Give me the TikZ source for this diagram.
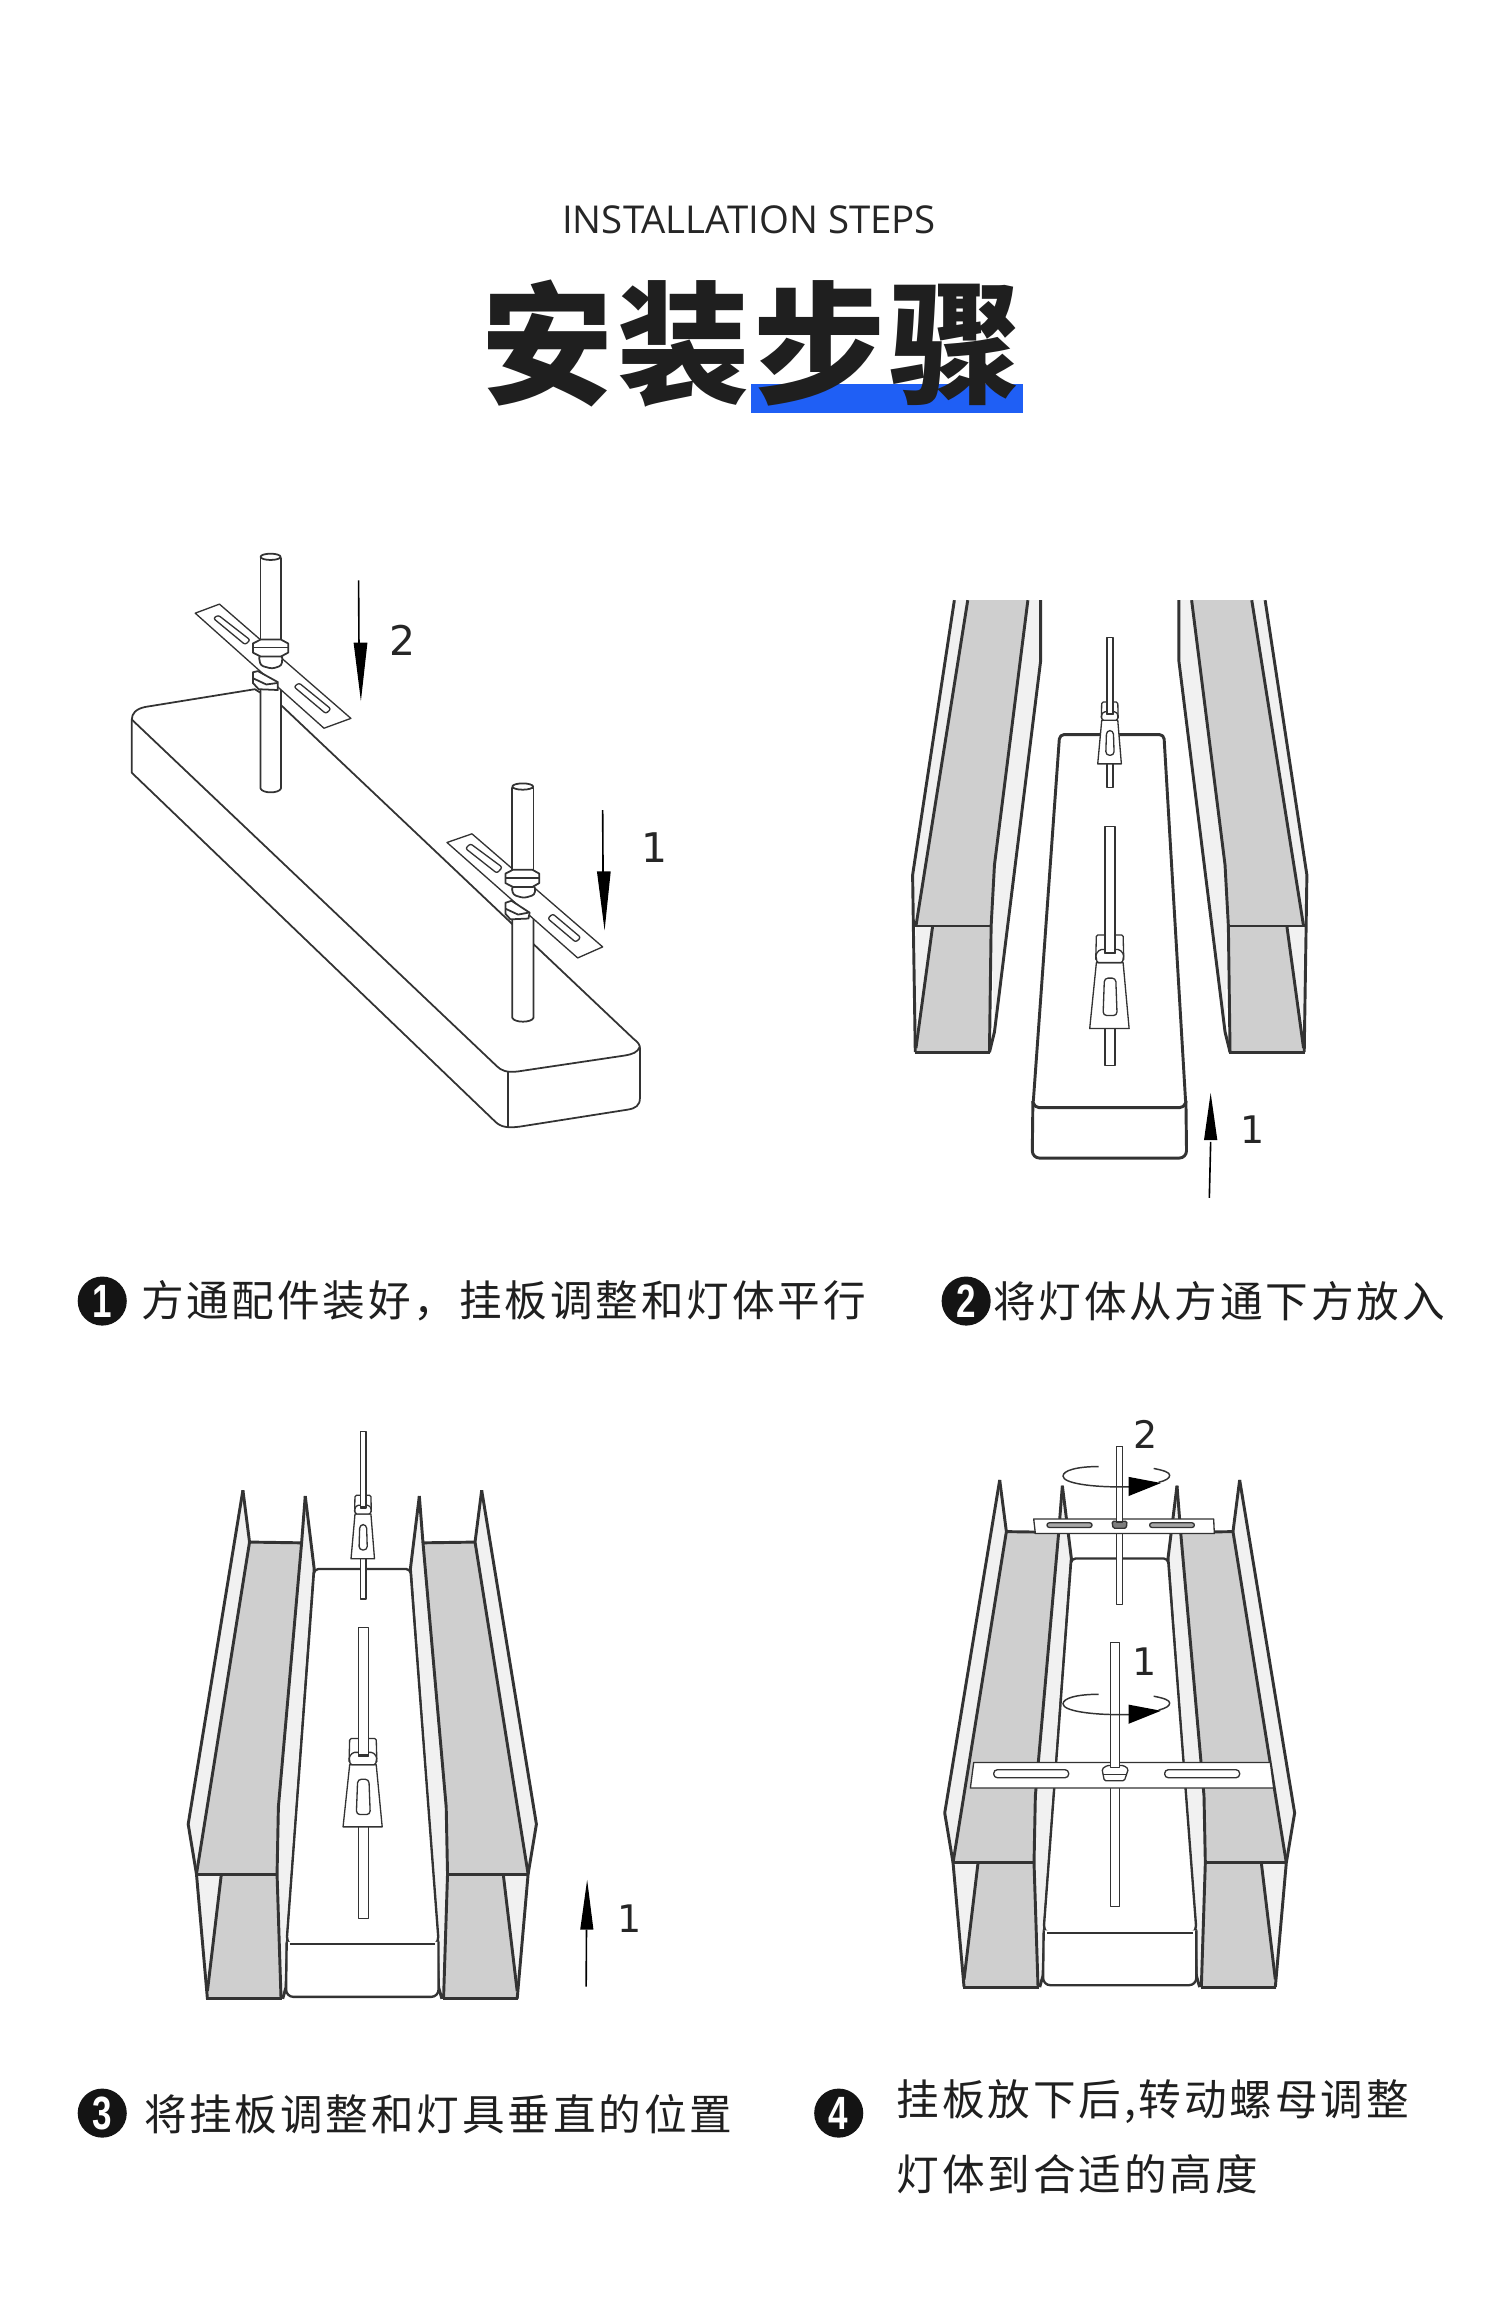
\documentclass[tikz,border=0pt]{standalone}
\usepackage{fontspec}
\newfontfamily\cjkreg[LetterSpace=6.7]{Noto Sans CJK SC}
\newfontfamily\cjktitle[LetterSpace=3]{Noto Sans CJK SC Black}
\newfontfamily\latlight{Open Sans}
\newfontfamily\labfont{DejaVu Sans}
\newfontfamily\discfont[FakeStretch=0.75,BoldFeatures={FakeStretch=0.75}]{Liberation Sans}
\definecolor{ink}{HTML}{333333}
\definecolor{facegrey}{HTML}{CFCFCF}
\definecolor{lightface}{HTML}{F1F1F1}
\definecolor{barblue}{HTML}{1F5FF5}
\tikzset{
  thinln/.style={draw=ink,line width=0.9bp,line join=round},
  thickln/.style={draw=ink,line width=2.0bp,line join=round},
  midln/.style={draw=ink,line width=1.2bp,line join=round},
  caption/.style={font=\cjkreg\fontsize{29.2}{32}\selectfont,text=black!88,anchor=west,inner sep=0pt},
  numdisc/.style={circle,fill=black!92,text=white,minimum size=33.5bp,inner sep=0pt,font=\discfont\bfseries\fontsize{32}{34}\selectfont},
  numlabel/.style={font=\labfont\fontsize{26}{28}\selectfont,text=black!85,inner sep=0pt},
}
% ---- hanger: #1 rod top, #2 rod bottom
\newcommand{\hanger}[2]{%
  \draw[thinln,fill=white] (-14,120) rectangle (16,#2);
  \filldraw[thinln,fill=white,rounded corners=1bp] (-40,-68) -- (40,-68) -- (42,-5) -- (-42,-5) -- cycle;
  \filldraw[thinln,fill=white] (-40,0) -- (40,0) -- (58,162) -- (-60,162) -- cycle;
  \filldraw[thinln,fill=white,rounded corners=2.5bp] (-16,38) -- (18,38) -- (22,130) -- (-20,130) -- cycle;
  \filldraw[thinln,fill=white,rounded corners=1bp] (-42,-20) -- (-30,-32) -- (30,-32) -- (42,-20) -- (38,0) -- (-38,0) -- cycle;
  \draw[thinln,fill=white] (-14,-22) rectangle (16,#1);
  \draw[ink,line width=1.4bp] (-14,-24) -- (16,-24);
}
% ---- tube in step 2
\newcommand{\tubeopen}{%
  \fill[lightface] (225,70) -- (265,70) -- (110,870) -- (100,745) -- cycle;
  \fill[lightface] (445,70) -- (483,70) -- (483,220) -- (345,1130) -- (335,870) -- (345,720) -- cycle;
  \fill[lightface] (110,870) -- (160,870) -- (110,1120) -- cycle;
  \fill[facegrey] (265,70) -- (445,70) -- (345,720) -- (335,870) -- (110,870) -- cycle;
  \fill[facegrey] (160,870) -- (335,870) -- (330,1180) -- (108,1180) -- cycle;
  \draw[thickln] (225,70) -- (100,745) -- (108,1180);
  \draw[thickln] (265,70) -- (110,870);
  \draw[thickln] (445,70) -- (345,720) -- (335,870) -- (330,1180);
  \draw[thickln] (483,70) -- (483,220) -- (345,1130) -- (330,1180);
  \draw[thickln] (100,870) -- (335,870);
  \draw[thickln] (160,870) -- (110,1170);
  \draw[thickln] (106,1180) -- (332,1180);
}
% ---- trough used in steps 3 and 4
\newcommand{\trough}{%
  \fill[lightface] (215,235) -- (235,370) -- (75,1235) -- (50,1105) -- cycle;
  \fill[lightface] (403,250) -- (430,440) -- (350,1400) -- (345,1530) -- (335,1560) -- (318,1235) -- (322,1080) -- (392,372) -- cycle;
  \fill[lightface] (75,1235) -- (150,1235) -- (108,1530) -- cycle;
  \fill[facegrey] (235,370) -- (392,372) -- (322,1060) -- (318,1235) -- (75,1235) -- cycle;
  \fill[facegrey] (150,1235) -- (318,1235) -- (330,1560) -- (108,1560) -- cycle;
  \draw[thickln] (215,235) -- (50,1105) -- (75,1235) -- (108,1560);
  \draw[thickln] (215,235) -- (235,370) -- (75,1235);
  \draw[thickln] (235,370) -- (392,372) -- (322,1060) -- (318,1235) -- (330,1560);
  \draw[thickln] (403,250) -- (392,372);
  \draw[thickln] (403,250) -- (430,440) -- (350,1400) -- (345,1530) -- (335,1560);
  \draw[thickln] (75,1235) -- (318,1235);
  \draw[thickln] (150,1235) -- (108,1540);
  \draw[thickln] (105,1560) -- (332,1560);
}
\newcommand{\troughpair}{%
  \trough
  \begin{scope}[shift={(1150,0)},xscale=-1]\trough\end{scope}
  \filldraw[thickln,fill=white,line width=1.6bp,rounded corners=3bp] (430,440) -- (720,440) -- (805,1410) -- (795,1418) -- (357,1418) -- (347,1410) -- cycle;
  \draw[thickln,line width=1.6bp,fill=white,rounded corners=5bp] (347,1412) -- (345,1555) -- (805,1555) -- (805,1412);
  \draw[thickln,line width=1.6bp] (357,1418) -- (795,1418);
}
\newcommand{\swirl}{%
  \draw[ink,line width=1.0bp] (535,195) .. controls (470,195) and (428,205) .. (428,220)
     .. controls (428,238) and (510,250) .. (628,248);
  \draw[ink,line width=1.0bp] (700,200) .. controls (730,205) and (748,210) .. (748,218) .. controls (748,226) and (735,232) .. (715,236);
  \fill[black] (625,222) -- (722,238) -- (625,272) -- cycle;
}
\begin{document}
\begin{tikzpicture}[x=1bp,y=-1bp]
\useasboundingbox (0,0) rectangle (1024,1585);
\fill[white] (0,0) rectangle (1024,1585);
\begin{scope}[scale=1.0115]
% ===== heading
\fill[barblue] (506.5,259) rectangle (690.5,279);
\node[font=\latlight\fontsize{26.3}{30}\selectfont,text=black!85,inner sep=0pt] (subtitle) at (505.5,148) {INSTALLATION STEPS};
\node[font=\cjktitle\fontsize{90.5}{95}\selectfont,text=black!88,inner sep=0pt] (title) at (507.5,232) {安装步骤};
% ===== captions
\node[numdisc] (n1) at (69,878) {1};
\node[caption] (c1) at (95,878) {方通配件装好，挂板调整和灯体平行};
\node[numdisc] (n2) at (652,878) {2};
\node[caption] (c2) at (670,878) {将灯体从方通下方放入};
\node[numdisc] (n3) at (69,1426) {3};
\node[caption] (c3) at (97,1427) {将挂板调整和灯具垂直的位置};
\node[numdisc] (n4) at (566,1426) {4};
\node[caption] (c4a) at (605,1418) {挂板放下后,转动螺母调整};
\node[caption] (c4b) at (605,1467) {灯体到合适的高度};
% ===== figure 1
\begin{scope}[shift={(65.6bp,-351.3bp)},x=0.2594bp,y=-0.2659bp]
  \filldraw[midln,fill=white] (90,505) .. controls (90,490) and (100,478) .. (125,473) -- (410,428) -- (480,470)
     -- (1395,1315) .. controls (1408,1325) and (1412,1330) .. (1412,1340) -- (1412,1465)
     .. controls (1412,1485) and (1400,1492) .. (1380,1495) -- (1100,1538) .. controls (1070,1542) and (1050,1540) .. (1035,1525)
     -- (90,640) -- cycle;
  \draw[midln] (90,505) -- (1040,1385) .. controls (1050,1395) and (1065,1402) .. (1095,1398) -- (1370,1358) .. controls (1395,1354) and (1405,1350) .. (1412,1335);
  \draw[midln] (1068,1400) -- (1068,1540);
  % rods lower
  \draw[midln,fill=white] (425,420) -- (425,680) .. controls (430,693) and (473,693) .. (478,680) -- (478,420);
  \draw[midln,fill=white] (1080,1000) -- (1080,1262) .. controls (1085,1275) and (1130,1275) .. (1135,1262) -- (1135,1000);
  % plates
  \filldraw[thinln,fill=white] (255,235) -- (318,212) -- (660,502) -- (590,527) -- cycle;
  \filldraw[thinln,fill=white,rounded corners=1.5bp] (302,248) -- (315,240) -- (398,303) -- (385,315) -- cycle;
  \filldraw[thinln,fill=white,rounded corners=1.5bp] (512,422) -- (525,412) -- (608,478) -- (595,490) -- cycle;
  \filldraw[thinln,fill=white] (910,817) -- (975,795) -- (1315,1082) -- (1250,1110) -- cycle;
  \filldraw[thinln,fill=white,rounded corners=1.5bp] (958,832) -- (971,820) -- (1054,880) -- (1040,895) -- cycle;
  \filldraw[thinln,fill=white,rounded corners=1.5bp] (1172,1010) -- (1185,998) -- (1258,1058) -- (1245,1070) -- cycle;
  % nuts and upper rods, rod 2
  \filldraw[midln,fill=white] (405,385) -- (418,382) -- (470,410) -- (470,430) -- (420,428) -- (405,412) -- cycle;
  \draw[midln] (405,400) -- (440,416) -- (470,412);
  \filldraw[midln,fill=white,rounded corners=2bp] (420,342) -- (482,342) -- (480,368) -- (455,376) -- (425,368) -- cycle;
  \filldraw[midln,fill=white] (425,95) -- (425,320) -- (478,320) -- (478,95) -- cycle;
  \filldraw[midln,fill=white] (451,92) ellipse [x radius=26,y radius=8];
  \filldraw[midln,fill=white] (405,312) -- (425,302) -- (478,302) -- (497,312) -- (497,335) -- (478,345) -- (425,345) -- (405,335) -- cycle;
  \draw[midln] (405,322) -- (497,322);
  % rod 1
  \filldraw[midln,fill=white] (1062,970) -- (1078,965) -- (1125,995) -- (1122,1010) -- (1075,1012) -- (1062,998) -- cycle;
  \draw[midln] (1062,985) -- (1095,1000) -- (1122,995);
  \filldraw[midln,fill=white,rounded corners=2bp] (1078,928) -- (1140,928) -- (1138,950) -- (1110,958) -- (1082,950) -- cycle;
  \filldraw[midln,fill=white] (1080,678) -- (1080,905) -- (1135,905) -- (1135,678) -- cycle;
  \filldraw[midln,fill=white] (1107,675) ellipse [x radius=27,y radius=8];
  \filldraw[midln,fill=white] (1062,896) -- (1082,886) -- (1132,886) -- (1150,896) -- (1150,920) -- (1132,930) -- (1082,930) -- (1062,920) -- cycle;
  \draw[midln] (1062,908) -- (1150,908);
  % arrows
  \draw[black,line width=1.1bp] (680,152) -- (681,315);
  \fill[black] (667,310) -- (703,310) -- (686,458) -- cycle;
  \draw[black,line width=1.1bp] (1315,735) -- (1316,895);
  \fill[black] (1300,890) -- (1336,890) -- (1320,1040) -- cycle;
  \node[numlabel,font=\labfont\fontsize{28}{30}\selectfont] (f1a) at (795,305) {2};
  \node[numlabel,font=\labfont\fontsize{28}{30}\selectfont] (f1b) at (1450,830) {1};
\end{scope}
% ===== figure 2
\begin{scope}[shift={(593.3bp,-385.8bp)},x=0.2255bp,y=-0.2748bp]
  \tubeopen
  \begin{scope}[shift={(1380,0)},xscale=-1]\tubeopen\end{scope}
  \filldraw[thickln,fill=white,rounded corners=3bp] (540,400) -- (852,400) -- (918,1315) -- (460,1315) -- cycle;
  \draw[thickln,rounded corners=5bp,fill=white] (460,1300) -- (458,1440) -- (920,1440) -- (918,1300);
  \draw[thickln,rounded corners=3bp] (460,1300) -- (465,1316) -- (913,1316) -- (918,1300);
  \begin{scope}[shift={(690,365)},xscale=0.6,yscale=0.66]\hanger{-307}{250}\end{scope}
  \begin{scope}[shift={(690,960)}]\hanger{-335}{252}\end{scope}
  \draw[black,line width=1.1bp] (988,1538) -- (992,1400);
  \fill[black] (972,1396) -- (1012,1396) -- (992,1280) -- cycle;
  \node[numlabel] (f2a) at (1117,1370) {1};
\end{scope}
% ===== figure 3
\begin{scope}[shift={(115.8bp,-944.8bp)},x=0.2238bp,y=-0.259bp]
  \troughpair
  \begin{scope}[shift={(577,297)},xscale=0.6,yscale=0.72]\hanger{-298}{307}\end{scope}
  \begin{scope}[shift={(577,950)}]\hanger{-358}{400}\end{scope}
  \draw[black,line width=1.1bp] (1250,1528) -- (1251,1380);
  \fill[black] (1232,1380) -- (1272,1380) -- (1253,1250) -- cycle;
  \node[numlabel] (f3a) at (1380,1350) {1};
\end{scope}
% ===== figure 4
\begin{scope}[shift={(621.1bp,-939.3bp)},x=0.2249bp,y=-0.2583bp]
  \begin{scope}[shift={(23,-5)}]\troughpair\end{scope}
  % back plate and rod
  \filldraw[thinln,fill=white] (588,142) rectangle (606,555);
  \filldraw[thinln,fill=white] (340,332) -- (880,332) -- (882,370) -- (345,370) -- cycle;
  \filldraw[thinln,fill=facegrey!80!black,rounded corners=1.5bp] (380,342) rectangle (515,354);
  \filldraw[thinln,fill=facegrey!80!black,rounded corners=1.5bp] (688,342) rectangle (822,354);
  \filldraw[thinln,fill=facegrey!60!black,rounded corners=1bp] (575,338) -- (620,338) -- (618,356) -- (578,356) -- cycle;
  \filldraw[thinln,fill=white] (588,142) rectangle (606,340);
  % front plate and rod
  \filldraw[thinln,fill=white] (570,1030) rectangle (598,1345);
  \filldraw[thinln,fill=white] (160,968) -- (1050,968) -- (1060,1035) -- (150,1035) -- cycle;
  \filldraw[thinln,fill=white,rounded corners=2.5bp] (220,987) rectangle (445,1008);
  \filldraw[thinln,fill=white,rounded corners=2.5bp] (733,987) rectangle (958,1008);
  \filldraw[thinln,fill=white,rounded corners=1bp] (545,985) -- (560,976) -- (610,976) -- (624,985) -- (612,1016) -- (552,1016) -- cycle;
  \draw[thinln] (548,1000) -- (618,1000);
  \filldraw[thinln,fill=white] (570,655) rectangle (598,982);
  % rotation arrows
  \swirl
  \begin{scope}[shift={(0,595)}]\swirl\end{scope}
  \node[numlabel] (f4a) at (675,110) {2};
  \node[numlabel] (f4b) at (673,705) {1};
\end{scope}
\end{scope}
\end{tikzpicture}
\end{document}
